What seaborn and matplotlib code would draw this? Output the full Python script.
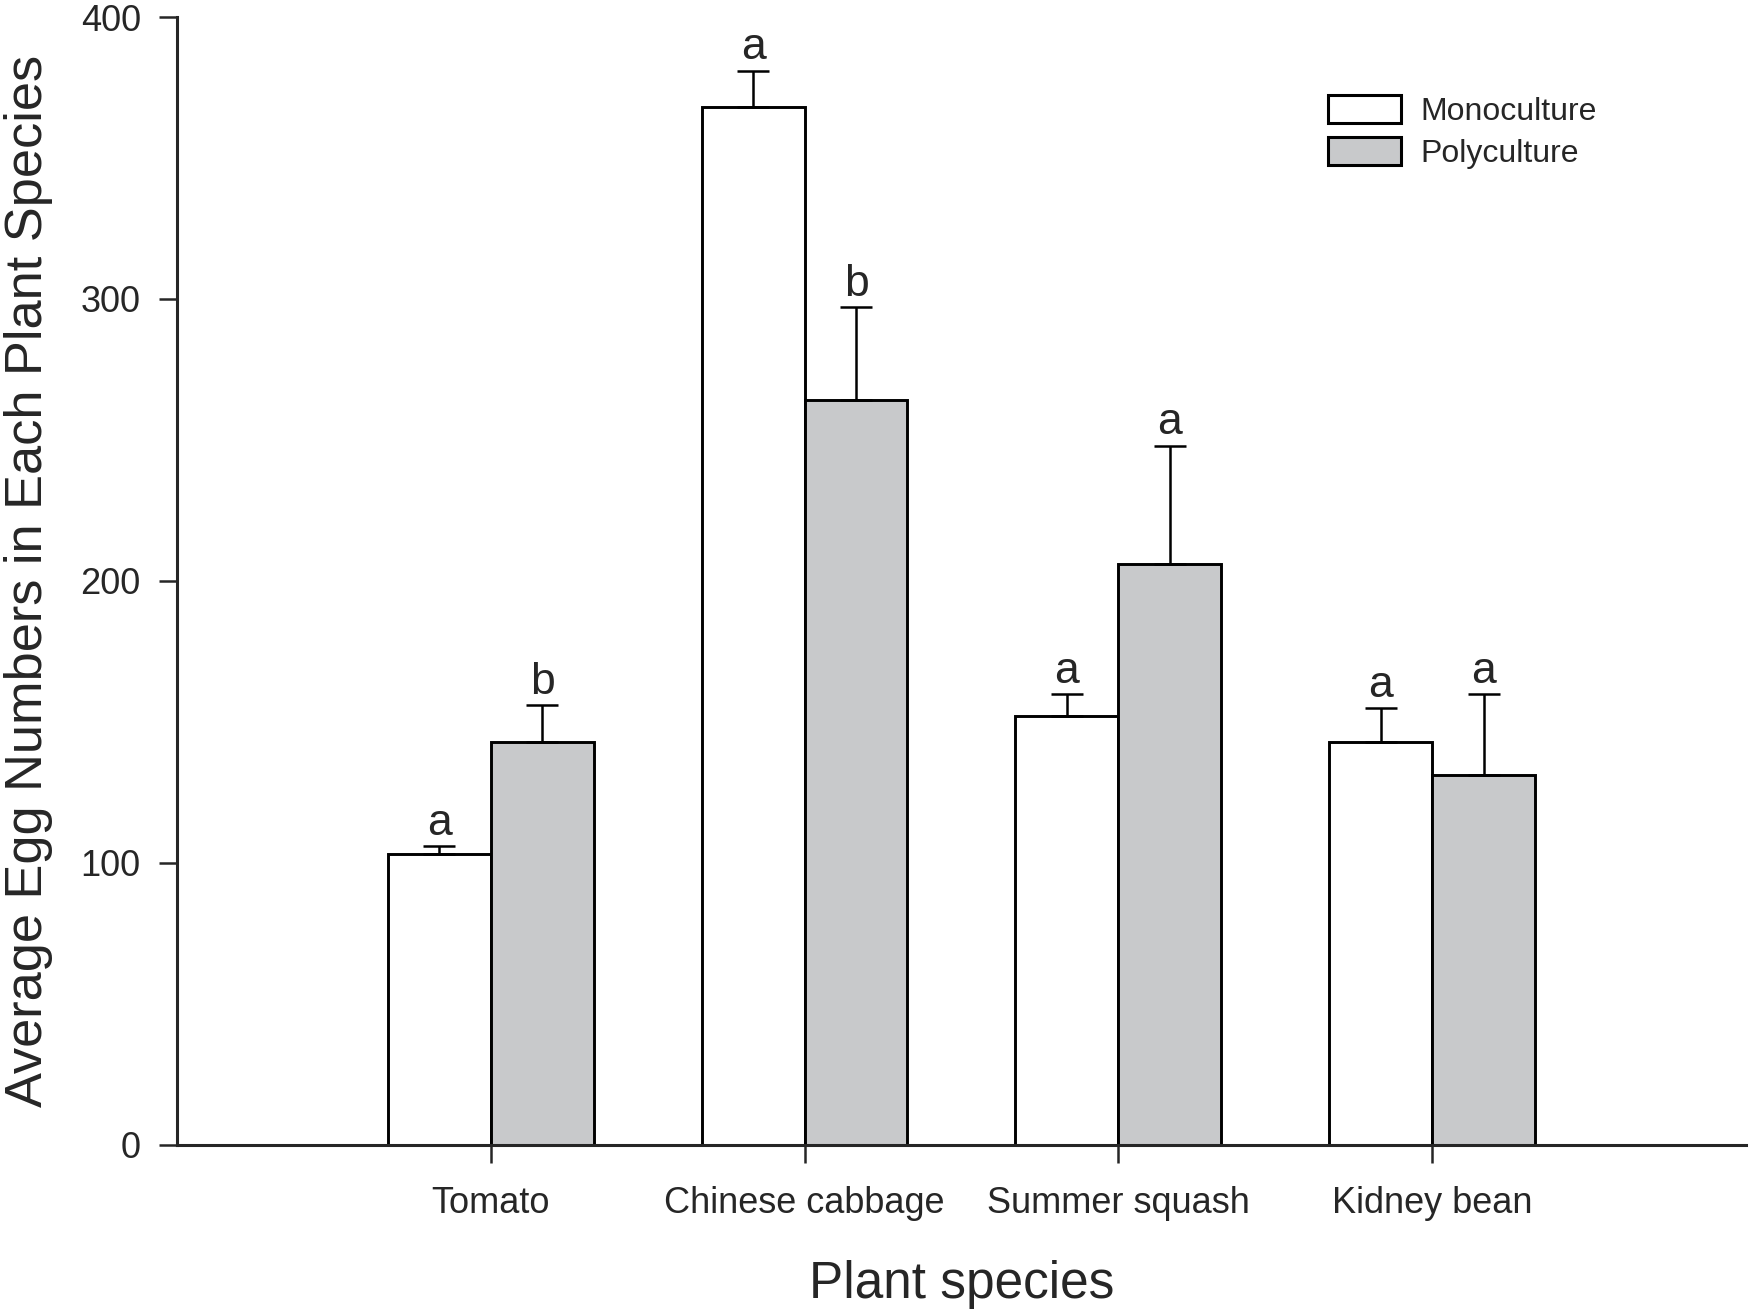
import numpy as np
import pandas as pd
import matplotlib
matplotlib.use("Agg")
import matplotlib.pyplot as plt
from matplotlib.patches import Patch
import seaborn as sns

# values (mean and SE, eggs per plant species)
species = ["Tomato", "Chinese cabbage", "Summer squash", "Kidney bean"]
conditions = ["Monoculture", "Polyculture"]
mono_mean = [103, 368, 152, 143]
mono_se = [3, 13, 8, 12]
poly_mean = [143, 264, 206, 131]
poly_se = [13, 33, 42, 29]
mono_letters = ["a", "a", "a", "a"]
poly_letters = ["b", "b", "a", "a"]

df = pd.DataFrame({
    "species": species * 2,
    "condition": [conditions[0]] * 4 + [conditions[1]] * 4,
    "eggs": mono_mean + poly_mean,
})

sns.set_style("ticks")
plt.rcParams["font.family"] = ["Liberation Sans", "DejaVu Sans"]

fig = plt.figure(figsize=(17.5, 13.11), dpi=100)
ax = fig.add_axes([0.1011, 0.1268, 0.8966, 0.8602])

colors = {"Monoculture": "white", "Polyculture": "#c8c9cb"}
sns.barplot(data=df, x="species", y="eggs", hue="condition", order=species,
            hue_order=conditions, palette=colors, saturation=1, width=0.656,
            edgecolor="black", linewidth=2.1, errorbar=None, legend=False, ax=ax)

# one-sided error bars + significance letters
for cont, se, letters in zip(ax.containers, [mono_se, poly_se], [mono_letters, poly_letters]):
    xs = [b.get_x() + b.get_width() / 2 for b in cont]
    ys = [b.get_height() for b in cont]
    ax.errorbar(xs, ys, yerr=[np.zeros(len(se)), se], fmt="none", ecolor="black",
                elinewidth=1.8, capsize=11.5, capthick=1.8, zorder=3)
    for x, y, e, lt in zip(xs, ys, se, letters):
        ax.annotate(lt, (x, y + e), xytext=(0, 8), textcoords="offset points",
                    ha="center", va="baseline", fontsize=32)

ax.set_xlim(-1.0, 4.0)
ax.set_ylim(0, 400)
ax.set_yticks([0, 100, 200, 300, 400])
sns.despine(ax=ax)
for s in ["left", "bottom"]:
    ax.spines[s].set_linewidth(2.2)
ax.tick_params(axis="both", direction="out", length=13, width=1.8, labelsize=26)
ax.tick_params(axis="y", pad=13)
ax.tick_params(axis="x", pad=16.5)

ax.set_xlabel("Plant species", fontsize=37, labelpad=28)
ax.set_ylabel("Average Egg Numbers in Each Plant Species", fontsize=37.7, labelpad=20)

handles = [Patch(facecolor=colors[c], edgecolor="black", linewidth=2.2, label=c) for c in conditions]
ax.legend(handles=handles, loc="upper left", bbox_to_anchor=(0.7336, 0.931),
          frameon=False, fontsize=23, borderpad=0, handlelength=2.3,
          handleheight=0.97, handletextpad=0.6, labelspacing=0.33,
          borderaxespad=0)

fig.savefig("out.png", dpi=100)
